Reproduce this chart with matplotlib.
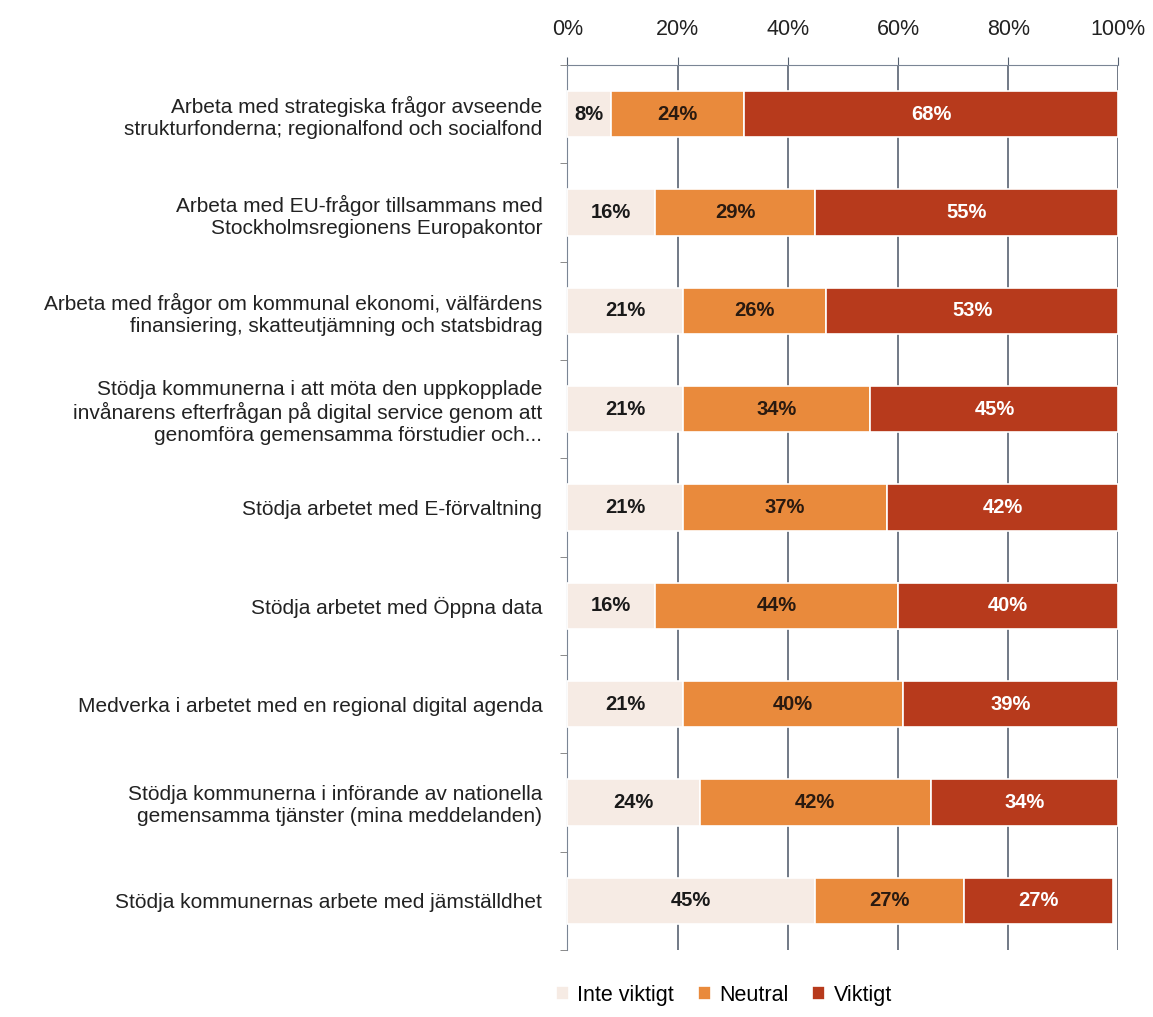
import numpy as np
import matplotlib
matplotlib.use("Agg")
import matplotlib.pyplot as plt
from matplotlib.ticker import FixedLocator

plt.rcParams['font.family'] = ['Liberation Sans', 'DejaVu Sans']

# --- DATA ---
categories = [
    "Arbeta med strategiska frågor avseende\nstrukturfonderna; regionalfond och socialfond",
    "Arbeta med EU-frågor tillsammans med\nStockholmsregionens Europakontor",
    "Arbeta med frågor om kommunal ekonomi, välfärdens\nfinansiering, skatteutjämning och statsbidrag",
    "Stödja kommunerna i att möta den uppkopplade\ninvånarens efterfrågan på digital service genom att\ngenomföra gemensamma förstudier och...",
    "Stödja arbetet med E-förvaltning",
    "Stödja arbetet med Öppna data",
    "Medverka i arbetet med en regional digital agenda",
    "Stödja kommunerna i införande av nationella\ngemensamma tjänster (mina meddelanden)",
    "Stödja kommunernas arbete med jämställdhet",
]
inte_viktigt = [8, 16, 21, 21, 21, 16, 21, 24, 45]
neutral = [24, 29, 26, 34, 37, 44, 40, 42, 27]
viktigt = [68, 55, 53, 45, 42, 40, 39, 34, 27]
series_names = ["Inte viktigt", "Neutral", "Viktigt"]
tick_vals = [0, 20, 40, 60, 80, 100]

colors = ["#F6EBE4", "#E98A3C", "#B73A1C"]
text_colors = ["#1a1a1a", "#2a1a10", "white"]

fig = plt.figure(figsize=(11.53, 10.17), dpi=100)
ax = fig.add_axes([0.492, 0.066, 0.478, 0.870])

y = np.arange(len(categories))
left = np.zeros(len(categories))
for vals, name, col, tcol in zip([inte_viktigt, neutral, viktigt], series_names, colors, text_colors):
    vals = np.array(vals, dtype=float)
    bars = ax.barh(y, vals, left=left, height=0.47, color=col, label=name,
                   edgecolor='white', linewidth=1.2, zorder=3)
    for b, v in zip(bars, vals):
        ax.text(b.get_x() + b.get_width() / 2, b.get_y() + b.get_height() / 2,
                f"{int(v)}%", ha='center', va='center', fontsize=14.5,
                fontweight='bold', color=tcol, zorder=4)
    left += vals

ax.set_xlim(0, 100)
ax.set_ylim(len(categories) - 0.5, -0.5)
ax.set_yticks(y)
ax.set_yticklabels(categories, fontsize=15, color='#222222', linespacing=1.2)
ax.yaxis.set_minor_locator(FixedLocator(np.arange(-0.5, len(categories), 1)))
ax.tick_params(axis='y', which='major', length=0, pad=18)
ax.tick_params(axis='y', which='minor', length=5, color='#777777')

ax.xaxis.tick_top()
ax.set_xticks(tick_vals)
ax.set_xticklabels([f"{t}%" for t in tick_vals], fontsize=15.5, color='#222222')
ax.tick_params(axis='x', length=6, color='#556070', pad=12)
ax.grid(axis='x', color='#4a5566', linewidth=1.1, zorder=0)

for s in ['right', 'bottom']:
    ax.spines[s].set_visible(False)
ax.spines['top'].set_color('#7a8595')
ax.spines['left'].set_color('#7a8595')

fig.legend(loc='lower center', bbox_to_anchor=(0.628, -0.008), ncol=3, frameon=False,
           fontsize=15.5, handlelength=0.6, handleheight=0.6, columnspacing=1.1,
           handletextpad=0.4)

fig.savefig("out.png", dpi=100, facecolor='white')
